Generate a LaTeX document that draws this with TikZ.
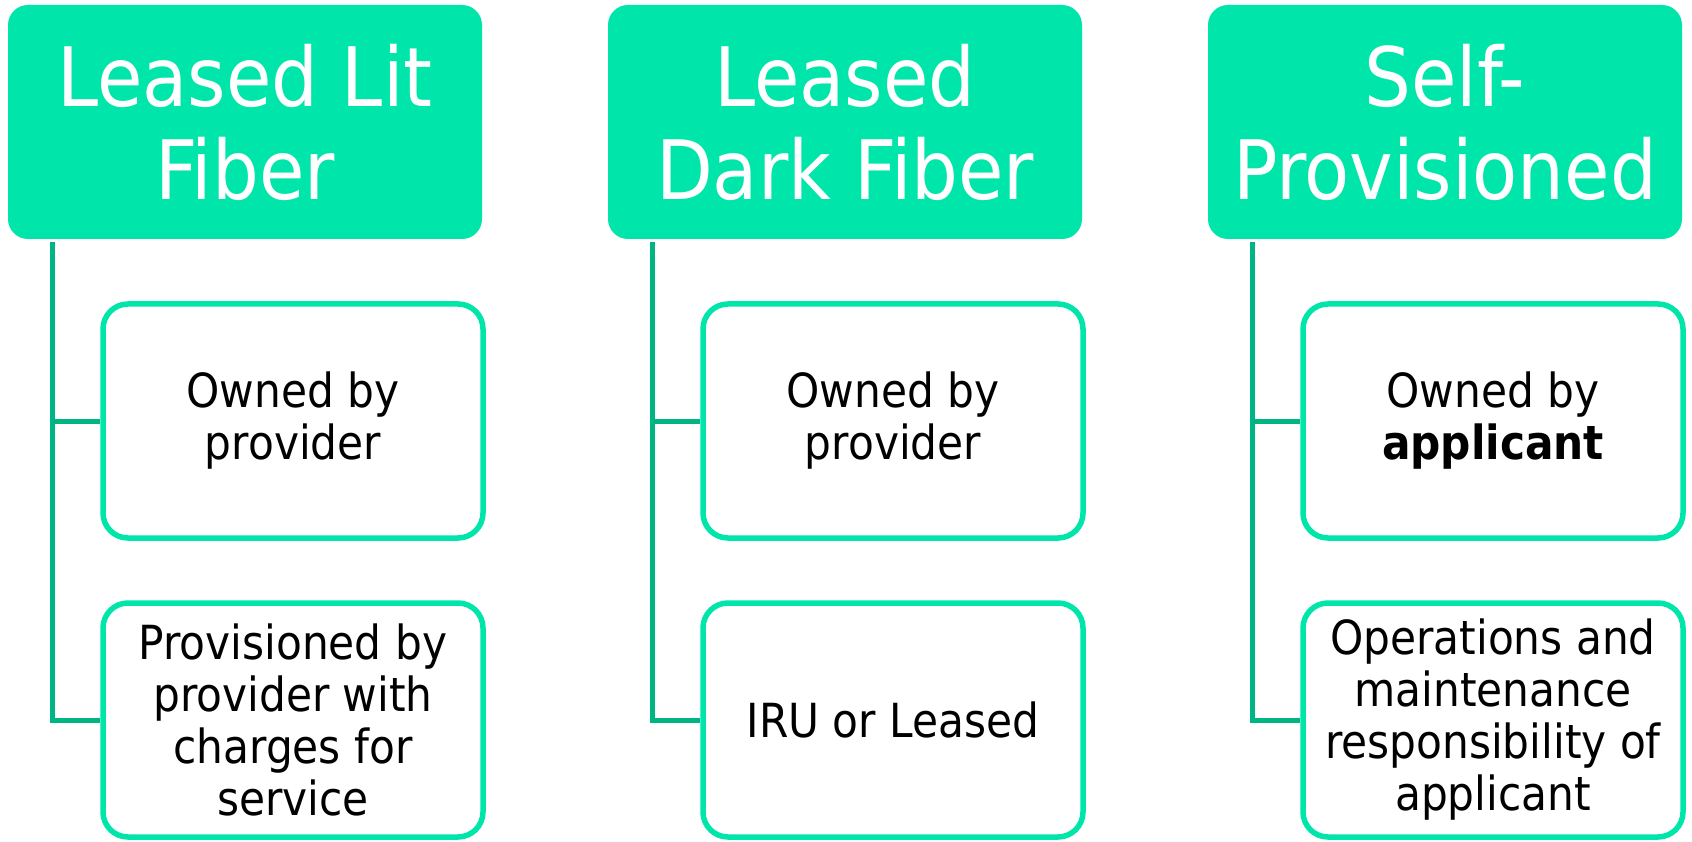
\documentclass[tikz,border=0pt]{standalone}
\usepackage{fontspec}
\setmainfont{DejaVu Sans Condensed}
\definecolor{mint}{RGB}{0,229,170}
\definecolor{linkgreen}{RGB}{0,181,132}
\tikzset{
  headbox/.style={fill=mint, draw=none, rounded corners=20pt, minimum width=474pt, minimum height=234pt, inner sep=0pt, align=center, text=white, font=\fontsize{82}{93}\selectfont},
  itembox/.style={fill=white, draw=mint, line width=5.5pt, rounded corners=25pt, minimum width=380pt, minimum height=234pt, inner sep=0pt, align=center, text=black, font=\fontsize{47}{52}\selectfont},
  conn/.style={draw=linkgreen, line width=5pt}
}
\begin{document}
\begin{tikzpicture}[x=1pt,y=-1pt]
\useasboundingbox (0,0) rectangle (1692,842);
% column 1
\node[headbox] (h1) at (245,122) {Leased Lit\\Fiber};
\node[itembox] (c1a) at (293,421) {Owned by\\provider};
\node[itembox] (c1b) at (293,720) {Provisioned by\\provider with\\charges for\\service};
% column 2
\node[headbox] (h2) at (845,122) {Leased\\Dark Fiber};
\node[itembox] (c2a) at (893,421) {Owned by\\provider};
\node[itembox] (c2b) at (893,720) {IRU or Leased};
% column 3
\node[headbox] (h3) at (1445,122) {Self-\\Provisioned};
\node[itembox] (c3a) at (1493,421) {Owned by\\\textbf{applicant}};
\node[itembox] (c3b) at (1493,720) {Operations and\\maintenance\\responsibility of\\applicant};
% connectors
\coordinate (r1) at ([xshift=45pt,yshift=-3pt]h1.south west);
\coordinate (r2) at ([xshift=45pt,yshift=-3pt]h2.south west);
\coordinate (r3) at ([xshift=45pt,yshift=-3pt]h3.south west);
\draw[conn] (r1) |- (c1a.west);
\draw[conn] (r1) |- (c1b.west);
\draw[conn] (r2) |- (c2a.west);
\draw[conn] (r2) |- (c2b.west);
\draw[conn] (r3) |- (c3a.west);
\draw[conn] (r3) |- (c3b.west);
\end{tikzpicture}
\end{document}
